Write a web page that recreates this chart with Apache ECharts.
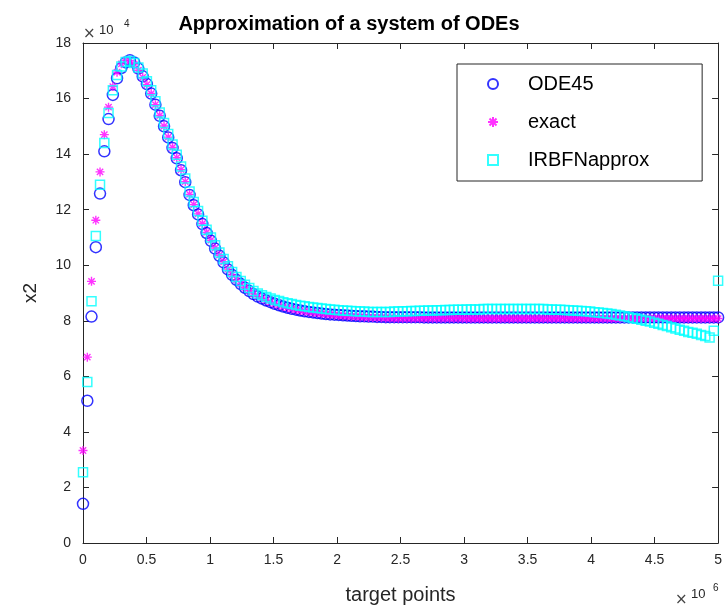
<!DOCTYPE html>
<html>
<head>
<meta charset="utf-8">
<script src="https://cdn.jsdelivr.net/npm/echarts@6/dist/echarts.min.js"></script>
<style>
html,body{margin:0;padding:0;background:#fff;}
#chart{width:725px;height:610px;}
</style>
</head>
<body>
<div id="chart"></div>
<script>
// target points (x 10^6)
var xs = [
  0, 0.034, 0.067, 0.101, 0.134, 0.168, 0.201, 0.235, 0.268, 0.302,
  0.336, 0.369, 0.403, 0.436, 0.470, 0.503, 0.537, 0.570, 0.604, 0.638,
  0.671, 0.705, 0.738, 0.772, 0.805, 0.839, 0.872, 0.906, 0.940, 0.973,
  1.007, 1.040, 1.074, 1.107, 1.141, 1.174, 1.208, 1.242, 1.275, 1.309,
  1.342, 1.376, 1.409, 1.443, 1.477, 1.510, 1.544, 1.577, 1.611, 1.644,
  1.678, 1.711, 1.745, 1.779, 1.812, 1.846, 1.879, 1.913, 1.946, 1.980,
  2.013, 2.047, 2.081, 2.114, 2.148, 2.181, 2.215, 2.248, 2.282, 2.315,
  2.349, 2.383, 2.416, 2.450, 2.483, 2.517, 2.550, 2.584, 2.617, 2.651,
  2.685, 2.718, 2.752, 2.785, 2.819, 2.852, 2.886, 2.919, 2.953, 2.987,
  3.020, 3.054, 3.087, 3.121, 3.154, 3.188, 3.221, 3.255, 3.289, 3.322,
  3.356, 3.389, 3.423, 3.456, 3.490, 3.523, 3.557, 3.591, 3.624, 3.658,
  3.691, 3.725, 3.758, 3.792, 3.826, 3.859, 3.893, 3.926, 3.960, 3.993,
  4.027, 4.060, 4.094, 4.128, 4.161, 4.195, 4.228, 4.262, 4.295, 4.329,
  4.362, 4.396, 4.430, 4.463, 4.497, 4.530, 4.564, 4.597, 4.631, 4.664,
  4.698, 4.732, 4.765, 4.799, 4.832, 4.866, 4.899, 4.933, 4.966, 5
];
// x2 (x 10^4)
var ode45 = [
  1.41, 5.12, 8.15, 10.65, 12.58, 14.10, 15.26, 16.13, 16.73, 17.10,
  17.30, 17.38, 17.30, 17.08, 16.80, 16.52, 16.18, 15.78, 15.38, 15.00,
  14.60, 14.22, 13.85, 13.42, 12.99, 12.53, 12.16, 11.83, 11.48, 11.16,
  10.88, 10.60, 10.34, 10.10, 9.85, 9.65, 9.47, 9.32, 9.19, 9.07,
  8.96, 8.87, 8.80, 8.73, 8.67, 8.61, 8.56, 8.51, 8.47, 8.43,
  8.40, 8.37, 8.34, 8.32, 8.30, 8.28, 8.26, 8.24, 8.23, 8.22,
  8.21, 8.20, 8.19, 8.18, 8.17, 8.16, 8.16, 8.15, 8.15, 8.14,
  8.14, 8.13, 8.13, 8.13, 8.13, 8.13, 8.13, 8.13, 8.13, 8.13,
  8.12, 8.12, 8.12, 8.12, 8.12, 8.12, 8.12, 8.12, 8.12, 8.12,
  8.12, 8.12, 8.12, 8.12, 8.12, 8.12, 8.12, 8.12, 8.12, 8.12,
  8.12, 8.12, 8.12, 8.12, 8.12, 8.12, 8.12, 8.12, 8.12, 8.12,
  8.12, 8.12, 8.12, 8.12, 8.12, 8.12, 8.12, 8.12, 8.12, 8.12,
  8.12, 8.12, 8.12, 8.12, 8.12, 8.12, 8.12, 8.12, 8.12, 8.12,
  8.12, 8.12, 8.12, 8.12, 8.12, 8.12, 8.12, 8.12, 8.12, 8.12,
  8.12, 8.12, 8.12, 8.12, 8.12, 8.12, 8.12, 8.12, 8.12, 8.12
];
var exact = [
  3.33, 6.69, 9.42, 11.62, 13.36, 14.70, 15.69, 16.43, 16.95, 17.25,
  17.38, 17.36, 17.24, 17.02, 16.76, 16.50, 16.18, 15.78, 15.39, 15.01,
  14.61, 14.24, 13.87, 13.44, 13.01, 12.55, 12.18, 11.85, 11.50, 11.18,
  10.90, 10.62, 10.36, 10.12, 9.86, 9.66, 9.48, 9.33, 9.20, 9.08,
  8.97, 8.88, 8.81, 8.74, 8.67, 8.61, 8.56, 8.51, 8.47, 8.43,
  8.40, 8.37, 8.34, 8.32, 8.30, 8.28, 8.26, 8.24, 8.22, 8.21,
  8.19, 8.18, 8.17, 8.16, 8.15, 8.14, 8.13, 8.12, 8.12, 8.11,
  8.11, 8.10, 8.10, 8.09, 8.09, 8.09, 8.09, 8.09, 8.09, 8.09,
  8.09, 8.09, 8.09, 8.09, 8.09, 8.09, 8.09, 8.09, 8.09, 8.09,
  8.08, 8.08, 8.08, 8.08, 8.08, 8.08, 8.08, 8.08, 8.08, 8.08,
  8.08, 8.08, 8.08, 8.08, 8.08, 8.08, 8.08, 8.08, 8.08, 8.08,
  8.08, 8.08, 8.08, 8.08, 8.08, 8.08, 8.08, 8.08, 8.08, 8.08,
  8.08, 8.08, 8.08, 8.08, 8.08, 8.08, 8.08, 8.08, 8.08, 8.08,
  8.08, 8.08, 8.08, 8.08, 8.08, 8.08, 8.08, 8.08, 8.08, 8.08,
  8.08, 8.08, 8.08, 8.08, 8.08, 8.08, 8.08, 8.08, 8.08, 8.08
];
var irbf = [
  2.55, 5.80, 8.70, 11.05, 12.90, 14.40, 15.48, 16.30, 16.85, 17.15,
  17.32, 17.35, 17.28, 17.12, 16.90, 16.62, 16.30, 15.90, 15.50, 15.12,
  14.72, 14.35, 13.98, 13.55, 13.12, 12.65, 12.28, 11.95, 11.60, 11.28,
  11.00, 10.72, 10.46, 10.22, 9.96, 9.76, 9.58, 9.43, 9.30, 9.18,
  9.07, 8.98, 8.92, 8.86, 8.80, 8.75, 8.71, 8.67, 8.63, 8.60,
  8.57, 8.54, 8.52, 8.50, 8.48, 8.46, 8.44, 8.42, 8.41, 8.40,
  8.38, 8.37, 8.36, 8.35, 8.34, 8.33, 8.33, 8.32, 8.32, 8.32,
  8.32, 8.32, 8.32, 8.33, 8.33, 8.34, 8.34, 8.35, 8.35, 8.36,
  8.36, 8.37, 8.37, 8.38, 8.38, 8.39, 8.39, 8.40, 8.40, 8.40,
  8.41, 8.41, 8.41, 8.41, 8.42, 8.42, 8.42, 8.42, 8.42, 8.42,
  8.42, 8.42, 8.42, 8.42, 8.42, 8.42, 8.42, 8.42, 8.42, 8.41,
  8.41, 8.40, 8.40, 8.39, 8.38, 8.37, 8.36, 8.35, 8.34, 8.33,
  8.31, 8.30, 8.28, 8.26, 8.24, 8.22, 8.19, 8.16, 8.13, 8.10,
  8.07, 8.04, 8.00, 7.97, 7.93, 7.89, 7.85, 7.81, 7.77, 7.72,
  7.68, 7.64, 7.60, 7.57, 7.53, 7.49, 7.45, 7.40, 7.64, 9.44
];
var seriesNames = ['ODE45', 'exact', 'IRBFNapprox'];

function pts(ys) {
  return xs.map(function (x, i) { return [x, ys[i]]; });
}

var mycharts = echarts.init(document.getElementById('chart'));
var axisCol = '#262626';
var font = 'Liberation Sans, Arial, Helvetica, sans-serif';
var starPath = 'path://M5,0L5,10M0,5L10,5M1.5,1.5L8.5,8.5M8.5,1.5L1.5,8.5';

// box axes: ticks inside, top/right without labels
function boxX(pos, showLabel) {
  return {
    type: 'value', position: pos, min: 0, max: 5, interval: 0.5,
    axisLine: { show: true, onZero: false, lineStyle: { color: axisCol, width: 1 } },
    axisTick: { show: true, inside: true, length: 6, lineStyle: { color: axisCol } },
    axisLabel: { show: showLabel, color: axisCol, fontSize: 14, fontFamily: font, margin: 10 },
    splitLine: { show: false }
  };
}
function boxY(pos, showLabel) {
  return {
    type: 'value', position: pos, min: 0, max: 18, interval: 2,
    axisLine: { show: true, onZero: false, lineStyle: { color: axisCol, width: 1 } },
    axisTick: { show: true, inside: true, length: 6, lineStyle: { color: axisCol } },
    axisLabel: { show: showLabel, color: axisCol, fontSize: 14, fontFamily: font, margin: 12 },
    splitLine: { show: false }
  };
}

var xBottom = boxX('bottom', true);
xBottom.name = 'target points';
xBottom.nameLocation = 'middle';
xBottom.nameGap = 42;
xBottom.nameTextStyle = { color: axisCol, fontSize: 20, fontFamily: font };
var yLeft = boxY('left', true);
yLeft.name = 'x2';
yLeft.nameLocation = 'middle';
yLeft.nameGap = 43;
yLeft.nameTextStyle = { color: axisCol, fontSize: 19, fontFamily: font };

var options = {
  animation: false,
  backgroundColor: '#fff',
  title: {
    text: 'Approximation of a system of ODEs',
    left: 344, top: 9, textAlign: 'center',
    textStyle: { fontSize: 20, fontWeight: 'bold', color: '#000', fontFamily: font }
  },
  grid: { left: 83, right: 5, top: 43, bottom: 65, containLabel: false },
  xAxis: [xBottom, boxX('top', false)],
  yAxis: [yLeft, boxY('right', false)],
  legend: {
    data: seriesNames,
    orient: 'vertical',
    left: 457, top: 64,
    padding: [10, 53, 11, 30],
    itemGap: 18,
    itemWidth: 10, itemHeight: 10,
    borderColor: axisCol, borderWidth: 1,
    backgroundColor: '#fff',
    textStyle: { fontSize: 20, color: '#000', fontFamily: font, padding: [0, 0, 0, 25] }
  },
  graphic: [
    { type: 'text', left: 83, top: 27, style: { text: '\u00d7', fill: '#444', font: '15px DejaVu Sans' } },
    { type: 'text', left: 99, top: 24, style: { text: '10', fill: axisCol, font: '13px ' + font } },
    { type: 'text', left: 124, top: 19, style: { text: '4', fill: axisCol, font: '10px ' + font } },
    { type: 'text', left: 675, top: 593, style: { text: '\u00d7', fill: '#444', font: '15px DejaVu Sans' } },
    { type: 'text', left: 691, top: 588, style: { text: '10', fill: axisCol, font: '13px ' + font } },
    { type: 'text', left: 713, top: 583, style: { text: '6', fill: axisCol, font: '10px ' + font } }
  ],
  series: [
    {
      name: 'ODE45', type: 'scatter', data: pts(ode45),
      symbol: 'circle', symbolSize: 11,
      itemStyle: { color: 'rgba(0,0,0,0)', borderColor: '#0000ff', borderWidth: 1.5 }
    },
    {
      name: 'exact', type: 'scatter', data: pts(exact),
      symbol: starPath, symbolSize: 9,
      itemStyle: { color: 'rgba(0,0,0,0)', borderColor: '#ff00ff', borderWidth: 1.4 }
    },
    {
      name: 'IRBFNapprox', type: 'scatter', data: pts(irbf),
      symbol: 'rect', symbolSize: 9,
      itemStyle: { color: 'rgba(0,0,0,0)', borderColor: '#00ffff', borderWidth: 1.5 }
    }
  ]
};
mycharts.setOption(options, true);
</script>
</body>
</html>
